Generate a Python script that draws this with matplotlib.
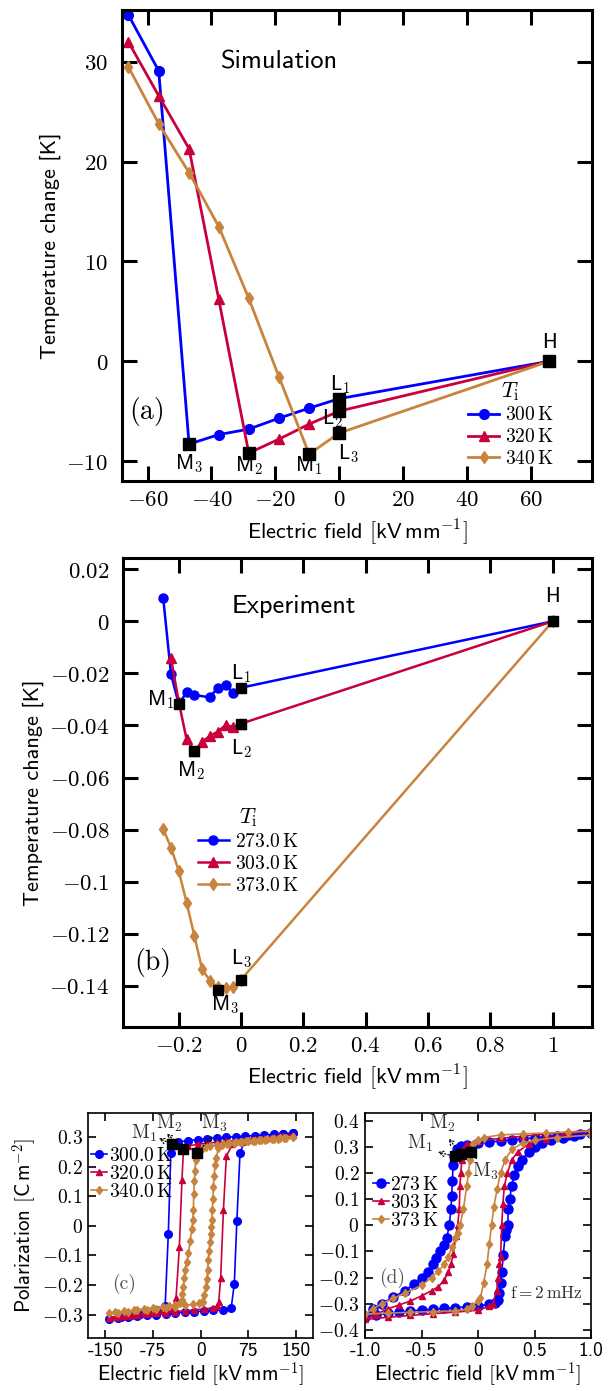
import numpy as np
import matplotlib.pyplot as plt
from matplotlib.ticker import FuncFormatter, MultipleLocator, FixedLocator

plt.rcParams['font.family'] = 'cmss10'
plt.rcParams['mathtext.fontset'] = 'cm'
plt.rcParams['axes.unicode_minus'] = False

blue = '#0000ff'
red = '#c8003c'
tan = '#c8843e'

# ---- (a) simulation: temperature change vs field
sim_E = [-66, -56.5, -47, -37.7, -28.3, -18.8, -9.4, 0, 65.8]
sim_300 = [34.7, 29.1, -8.3, -7.35, -6.8, -5.7, -4.7, -3.75, 0]
sim_320 = [32.0, 26.6, 21.3, 6.2, -9.2, -7.8, -6.3, -5.0, 0]
sim_340 = [29.5, 23.8, 18.9, 13.5, 6.3, -1.6, -9.3, -7.2, 0]
sim_labels = ['300', '320', '340']
sim_pts_E = [-47, -28.3, -9.4, 0, 0, 0, 65.8]
sim_pts_T = [-8.3, -9.2, -9.3, -3.75, -5.0, -7.2, 0]
sim_names = ['M_3', 'M_2', 'M_1', 'L_1', 'L_2', 'L_3', 'H']
sim_name_E = [-47, -28.2, -9.4, 0.3, -2.2, 2.8, 65.8]
sim_name_T = [-10.3, -10.5, -10.5, -2.4, -5.8, -9.3, 1.9]

# ---- (b) experiment
exp_E_273 = [-0.25, -0.225, -0.2, -0.175, -0.15, -0.1, -0.075, -0.05, -0.025, 0, 1]
exp_273 = [0.009, -0.0203, -0.0318, -0.0273, -0.0283, -0.0292, -0.0255, -0.0246, -0.0274, -0.0255, 0]
exp_E_303 = [-0.225, -0.2, -0.175, -0.15, -0.125, -0.1, -0.075, -0.05, -0.025, 0, 1]
exp_303 = [-0.0142, -0.031, -0.0453, -0.0498, -0.0463, -0.044, -0.0424, -0.0399, -0.0405, -0.0393, 0]
exp_E_373 = [-0.25, -0.225, -0.2, -0.175, -0.15, -0.125, -0.1, -0.075, -0.05, -0.025, 0, 1]
exp_373 = [-0.0798, -0.0869, -0.0959, -0.108, -0.1208, -0.1337, -0.138, -0.1405, -0.141, -0.1405, -0.1376, 0]
exp_labels = ['273.0', '303.0', '373.0']
exp_pts_E = [-0.2, -0.15, -0.075, 0, 0, 0, 1]
exp_pts_T = [-0.0318, -0.0498, -0.1416, -0.0255, -0.0393, -0.1376, 0]
exp_name_E = [-0.258, -0.161, -0.051, 0.0, 0.0, 0.0, 1.0]
exp_name_T = [-0.030, -0.0575, -0.1474, -0.020, -0.049, -0.1296, 0.0095]
exp_names = ['M_1', 'M_2', 'M_3', 'L_1', 'L_2', 'L_3', 'H']

# ---- (c) simulated hysteresis loops (field in kV/mm, P in C/m2)
c300_E = [145, 130, 115, 100, 85, 70, 55, 40, 25, 10, -5, -20, -35, -45, -47, -51, -56,
          -65, -80, -95, -110, -125, -145,
          -130, -115, -100, -85, -70, -55, -40, -25, -10, 5, 20, 35, 48, 53, 57, 62,
          70, 85, 100, 115, 130, 145]
c300_P = [0.313, 0.311, 0.309, 0.307, 0.305, 0.303, 0.301, 0.299, 0.297, 0.294, 0.291, 0.288, 0.284, 0.280, 0.247, -0.028, -0.272,
          -0.285, -0.291, -0.297, -0.302, -0.307, -0.315,
          -0.312, -0.309, -0.306, -0.303, -0.300, -0.297, -0.294, -0.292, -0.290, -0.288, -0.286, -0.284, -0.279, -0.195, 0.016, 0.247,
          0.290, 0.296, 0.301, 0.305, 0.309, 0.313]
c320_E = [145, 130, 115, 100, 85, 70, 55, 40, 25, 10, -5, -20, -27, -29.5, -33.6, -38.8, -45,
          -60, -75, -90, -105, -120, -135, -145,
          -130, -115, -100, -85, -70, -55, -40, -25, -10, 5, 20, 26, 28.4, 31.5, 35.8, 40.5,
          50, 65, 80, 95, 110, 125, 145]
c320_P = [0.306, 0.303, 0.300, 0.297, 0.294, 0.291, 0.288, 0.285, 0.282, 0.279, 0.275, 0.270, 0.263, 0.154, -0.071, -0.245, -0.282,
          -0.288, -0.292, -0.296, -0.300, -0.304, -0.308, -0.311,
          -0.308, -0.305, -0.302, -0.299, -0.296, -0.293, -0.290, -0.287, -0.284, -0.281, -0.277, -0.270, -0.258, -0.176, 0.053, 0.235,
          0.276, 0.284, 0.289, 0.294, 0.298, 0.302, 0.306]
c340_E = [145, 135, 125, 115, 105, 95, 85, 75, 65, 55, 45, 35, 25, 15, 8, 2, -3, -6.3, -8, -9, -10, -11, -11.5, -12.5,
          -14, -16.5, -19.4, -22, -24.6, -26, -27.3, -28.7, -30, -33, -40, -50, -60, -75, -90, -105, -120, -135, -145,
          -130, -115, -100, -85, -70, -55, -40, -25, -12, -3, 2, 4.2, 6, 7.9, 9.5, 10.8, 12, 13.3, 14.6, 15.8, 17, 17.4,
          18.2, 19.2, 20, 21.2, 22.7, 24.5, 27.9, 33, 42, 52, 62, 72, 82, 92, 102, 112, 122, 132, 145]
c340_P = [0.300, 0.298, 0.296, 0.294, 0.292, 0.290, 0.288, 0.286, 0.284, 0.282, 0.280, 0.277, 0.274, 0.270, 0.265, 0.258, 0.250, 0.240, 0.222, 0.185, 0.150, 0.109, 0.053, 0.020,
          -0.010, -0.050, -0.093, -0.122, -0.150, -0.178, -0.206, -0.230, -0.250, -0.262, -0.267, -0.270, -0.273, -0.277, -0.281, -0.285, -0.289, -0.292, -0.296,
          -0.293, -0.290, -0.286, -0.283, -0.280, -0.277, -0.273, -0.269, -0.265, -0.262, -0.259, -0.257, -0.235, -0.206, -0.180, -0.150, -0.116, -0.085, -0.055, -0.027, -0.005, 0.020,
          0.053, 0.090, 0.132, 0.170, 0.205, 0.230, 0.262, 0.272, 0.277, 0.280, 0.283, 0.285, 0.287, 0.289, 0.291, 0.293, 0.295, 0.297, 0.300]
c_labels = ['300.0', '320.0', '340.0']
c_pts_E = [-45.7, -27.3, -6.3]
c_pts_P = [0.276, 0.261, 0.245]
c_tip_E = [-70, -57, 22]
c_tip_P = [0.300, 0.318, 0.312]
c_name_E = [-88.5, -50, 21.6]
c_name_P = [0.312, 0.346, 0.346]

# ---- (d) measured hysteresis loops
d273_E = [1.0, 0.9, 0.8, 0.7, 0.6, 0.5, 0.4, 0.3, 0.2, 0.1, 0.0, -0.1, -0.15, -0.19, -0.21, -0.22, -0.227, -0.233,
          -0.24, -0.254, -0.277, -0.30, -0.336, -0.37, -0.395, -0.44, -0.5, -0.57, -0.646, -0.75, -0.852, -0.93, -1.0,
          -0.9, -0.8, -0.7, -0.6, -0.5, -0.4, -0.3, -0.2, -0.1, 0.0, 0.1, 0.15, 0.18, 0.19, 0.2, 0.21, 0.224, 0.239,
          0.25, 0.263, 0.268, 0.28, 0.298, 0.32, 0.35, 0.387, 0.45, 0.5, 0.564, 0.65, 0.75, 0.85, 1.0]
d273_P = [0.352, 0.348, 0.345, 0.342, 0.338, 0.334, 0.330, 0.326, 0.322, 0.318, 0.314, 0.308, 0.302, 0.29, 0.263, 0.23, 0.17, 0.11,
          0.06, 0.0, -0.05, -0.075, -0.1, -0.125, -0.15, -0.18, -0.2, -0.225, -0.25, -0.275, -0.3, -0.32, -0.35,
          -0.343, -0.337, -0.332, -0.328, -0.324, -0.321, -0.318, -0.315, -0.312, -0.308, -0.303, -0.298, -0.285, -0.258, -0.22, -0.18, -0.112, -0.042,
          -0.02, 0.0, 0.06, 0.1, 0.149, 0.19, 0.225, 0.25, 0.28, 0.298, 0.314, 0.325, 0.335, 0.342, 0.352]
d303_E = [1.0, 0.8, 0.6, 0.4, 0.2, 0.0, -0.1, -0.13, -0.144, -0.152, -0.16, -0.166, -0.18, -0.197, -0.218, -0.24, -0.263,
          -0.3, -0.35, -0.41, -0.5, -0.6, -0.7, -0.8, -0.9, -1.0,
          -0.8, -0.6, -0.4, -0.2, 0.0, 0.1, 0.13, 0.165, 0.18, 0.19, 0.2, 0.21, 0.22, 0.233, 0.26, 0.3, 0.35, 0.45, 0.6, 0.8, 1.0]
d303_P = [0.362, 0.355, 0.348, 0.340, 0.332, 0.322, 0.310, 0.290, 0.250, 0.200, 0.149, 0.060, 0.0, -0.042, -0.110, -0.150, -0.180,
          -0.210, -0.235, -0.250, -0.270, -0.290, -0.305, -0.320, -0.340, -0.360,
          -0.352, -0.345, -0.338, -0.332, -0.325, -0.310, -0.300, -0.250, -0.200, -0.150, -0.120, 0.0, 0.080, 0.149, 0.200, 0.250, 0.280, 0.310, 0.330, 0.348, 0.362]
d373_E = [1.0, 0.8, 0.6, 0.4, 0.2, 0.05, 0.0, -0.04, -0.062, -0.071, -0.085, -0.1, -0.13, -0.159, -0.18, -0.204, -0.23,
          -0.263, -0.3, -0.35, -0.41, -0.5, -0.646, -0.75, -0.85, -0.93, -1.0,
          -0.8, -0.6, -0.4, -0.2, -0.1, -0.056, 0.0, 0.02, 0.05, 0.08, 0.1, 0.12, 0.14, 0.17, 0.2, 0.24, 0.3, 0.4, 0.5, 0.7, 1.0]
d373_P = [0.360, 0.356, 0.352, 0.349, 0.345, 0.335, 0.325, 0.310, 0.278, 0.250, 0.200, 0.149, 0.060, 0.0, -0.030, -0.050, -0.085,
          -0.120, -0.150, -0.175, -0.200, -0.230, -0.260, -0.280, -0.300, -0.320, -0.340,
          -0.336, -0.333, -0.330, -0.327, -0.322, -0.310, -0.290, -0.280, -0.220, -0.150, -0.070, 0.0, 0.070, 0.140, 0.200, 0.250, 0.290, 0.315, 0.325, 0.335, 0.345]
d_labels = ['273', '303', '373']
d_pts_E = [-0.204, -0.15, -0.062]
d_pts_P = [0.263, 0.272, 0.278]
d_tip_E = [-0.38, -0.277, 0.018]
d_tip_P = [0.282, 0.340, 0.244]
d_name_E = [-0.513, -0.316, 0.062]
d_name_P = [0.314, 0.390, 0.206]


def mfmt(v, pos):
    v = round(v, 6) + 0.0
    return f'${v:g}$'


def style(ax, lw, tl, ls, xpad, ypad):
    ax.tick_params(which='both', direction='in', top=True, right=True,
                   length=tl, width=lw, labelsize=ls)
    ax.tick_params(axis='x', pad=xpad)
    ax.tick_params(axis='y', pad=ypad)
    for s in ax.spines.values():
        s.set_linewidth(lw)


fig = plt.figure(figsize=(6.15, 13.91), dpi=100)

# (a)
axa = fig.add_axes([0.1984, 0.6542, 0.7642, 0.3386])
styles = [(blue, 'o', 7), (red, '^', 7.5), (tan, 'd', 6.5)]
for T, lab, (c, m, ms) in zip([sim_300, sim_320, sim_340], sim_labels, styles):
    axa.plot(sim_E, T, color=c, marker=m, ms=ms, lw=2, label=rf'${lab}\,\mathrm{{K}}$')
axa.plot(sim_pts_E, sim_pts_T, 's', color='k', ms=8, zorder=5)
for n, x, y in zip(sim_names, sim_name_E, sim_name_T):
    axa.text(x, y, rf'$\mathsf{{{n[0]}}}_{n[2]}$' if '_' in n else r'$\mathsf{H}$',
             fontsize=15, ha='center', va='center')
axa.text(-37, 30, 'Simulation', fontsize=19, va='center')
axa.text(-60, -5, '(a)', fontsize=20, ha='center', va='center', family='cmr10')
axa.set_xlim(-68, 79.2)
axa.set_ylim(-12, 35.2)
axa.xaxis.set_major_locator(MultipleLocator(20))
axa.yaxis.set_major_locator(MultipleLocator(10))
axa.xaxis.set_major_formatter(FuncFormatter(mfmt))
axa.yaxis.set_major_formatter(FuncFormatter(mfmt))
style(axa, 2.2, 10.5, 16.5, 6, 10)
axa.set_xlabel(r'Electric field $[\mathsf{kV\,mm}^{-1}]$', fontsize=16)
axa.set_ylabel('Temperature change [K]', fontsize=16)
axa.legend(loc='center', bbox_to_anchor=(0.827, 0.121), frameon=False, fontsize=14,
           title=r'$T_\mathrm{i}$', title_fontsize=16, handlelength=1.6,
           handletextpad=0.3, labelspacing=0.2, borderpad=0.2)

# (b)
axb = fig.add_axes([0.2005, 0.2619, 0.7621, 0.3371])
for E, T, lab, (c, m, ms) in zip([exp_E_273, exp_E_303, exp_E_373], [exp_273, exp_303, exp_373],
                                 exp_labels, styles):
    axb.plot(E, T, color=c, marker=m, ms=ms - 0.5, lw=1.8, label=rf'${lab}\,\mathrm{{K}}$')
axb.plot(exp_pts_E, exp_pts_T, 's', color='k', ms=7.5, zorder=5)
for n, x, y in zip(exp_names, exp_name_E, exp_name_T):
    axb.text(x, y, rf'$\mathsf{{{n[0]}}}_{n[2]}$' if '_' in n else r'$\mathsf{H}$',
             fontsize=15, ha='center', va='center')
axb.text(-0.032, 0.0055, 'Experiment', fontsize=19, va='center')
axb.text(-0.282, -0.131, '(b)', fontsize=20, ha='center', va='center', family='cmr10')
axb.set_xlim(-0.378, 1.126)
axb.set_ylim(-0.1557, 0.0244)
axb.xaxis.set_major_locator(MultipleLocator(0.2))
axb.yaxis.set_major_locator(MultipleLocator(0.02))
axb.xaxis.set_major_formatter(FuncFormatter(mfmt))
axb.yaxis.set_major_formatter(FuncFormatter(mfmt))
style(axb, 2.2, 10.5, 16.5, 6, 10)
axb.set_xlabel(r'Electric field $[\mathsf{kV\,mm}^{-1}]$', fontsize=16)
axb.set_ylabel('Temperature change [K]', fontsize=16)
axb.legend(loc='center', bbox_to_anchor=(0.266, 0.375), frameon=False, fontsize=14,
           title=r'$T_\mathrm{i}$', title_fontsize=16, handlelength=1.6,
           handletextpad=0.3, labelspacing=0.2, borderpad=0.2)

# (c)
axc = fig.add_axes([0.1436, 0.0379, 0.3654, 0.1617])
loop_styles = [(blue, 'o', 5.5), (red, '^', 5), (tan, 'd', 4.5)]
for E, P, lab, (c, m, ms) in zip([c300_E, c320_E, c340_E], [c300_P, c320_P, c340_P],
                                 c_labels, loop_styles):
    axc.plot(E, P, color=c, marker=m, ms=ms, lw=1.2, label=rf'${lab}\,\mathrm{{K}}$')
axc.plot(c_pts_E, c_pts_P, 's', color='k', ms=6.5, zorder=5)
for i in range(3):
    axc.annotate('', xy=(c_tip_E[i], c_tip_P[i]), xytext=(c_pts_E[i], c_pts_P[i]),
                 arrowprops=dict(arrowstyle='->', ls=':', lw=0.9, color='k'), zorder=6)
    axc.text(c_name_E[i], c_name_P[i], rf'$\mathrm{{M}}_{i + 1}$', fontsize=14,
             ha='center', va='center', color='#333333')
axc.text(-121, -0.198, '(c)', fontsize=14, ha='center', va='center', family='cmr10', color='#555555')
axc.set_xlim(-177, 177)
axc.set_ylim(-0.38, 0.38)
axc.xaxis.set_major_locator(FixedLocator([-150, -75, 0, 75, 150]))
axc.yaxis.set_major_locator(MultipleLocator(0.1))
axc.xaxis.set_major_formatter(FuncFormatter(lambda v, p: f'{v:g}'))
axc.yaxis.set_major_formatter(FuncFormatter(mfmt))
style(axc, 1.2, 6, 14, 3, 4)
axc.set_xlabel(r'Electric field $[\mathsf{kV\,mm}^{-1}]$', fontsize=15, labelpad=0)
axc.set_ylabel(r'Polarization $[\mathsf{C\,m}^{-2}]$', fontsize=15, labelpad=2)
axc.legend(loc='center', bbox_to_anchor=(0.193, 0.73), frameon=False, fontsize=14,
           handlelength=0.8, handletextpad=0.1, labelspacing=0.0, borderpad=0.1)

# (d)
axd = fig.add_axes([0.5935, 0.0383, 0.3675, 0.1618])
loop_styles_d = [(blue, 'o', 6.5), (red, '^', 5), (tan, 'd', 4.5)]
for E, P, lab, (c, m, ms) in zip([d273_E, d303_E, d373_E], [d273_P, d303_P, d373_P],
                                 d_labels, loop_styles_d):
    axd.plot(E, P, color=c, marker=m, ms=ms, lw=1.2, label=rf'${lab}\,\mathrm{{K}}$')
axd.plot(d_pts_E, d_pts_P, 's', color='k', ms=6.5, zorder=5)
for i in range(3):
    axd.annotate('', xy=(d_tip_E[i], d_tip_P[i]), xytext=(d_pts_E[i], d_pts_P[i]),
                 arrowprops=dict(arrowstyle='->', ls=':', lw=0.9, color='k'), zorder=6)
    axd.text(d_name_E[i], d_name_P[i], rf'$\mathrm{{M}}_{i + 1}$', fontsize=14,
             ha='center', va='center', color='#333333')
axd.text(-0.758, -0.2, '(d)', fontsize=14, ha='center', va='center', family='cmr10', color='#555555')
axd.text(0.6, -0.26, r'$\mathrm{f{=}2\,mHz}$', fontsize=12.5, ha='center', va='center', color='#333333')
axd.set_xlim(-1, 1)
axd.set_ylim(-0.43, 0.43)
axd.xaxis.set_major_locator(MultipleLocator(0.5))
axd.yaxis.set_major_locator(MultipleLocator(0.1))
axd.xaxis.set_major_formatter(FuncFormatter(lambda v, p: '0' if abs(v) < 1e-9 else f'{v:.1f}'))
axd.yaxis.set_major_formatter(FuncFormatter(mfmt))
style(axd, 1.2, 6, 14, 3, 4)
axd.set_xlabel(r'Electric field $[\mathsf{kV\,mm}^{-1}]$', fontsize=15, labelpad=0)
axd.legend(loc='center', bbox_to_anchor=(0.181, 0.599), frameon=False, fontsize=14,
           handlelength=0.8, handletextpad=0.1, labelspacing=0.0, borderpad=0.1)

fig.savefig('out.png', dpi=100)
